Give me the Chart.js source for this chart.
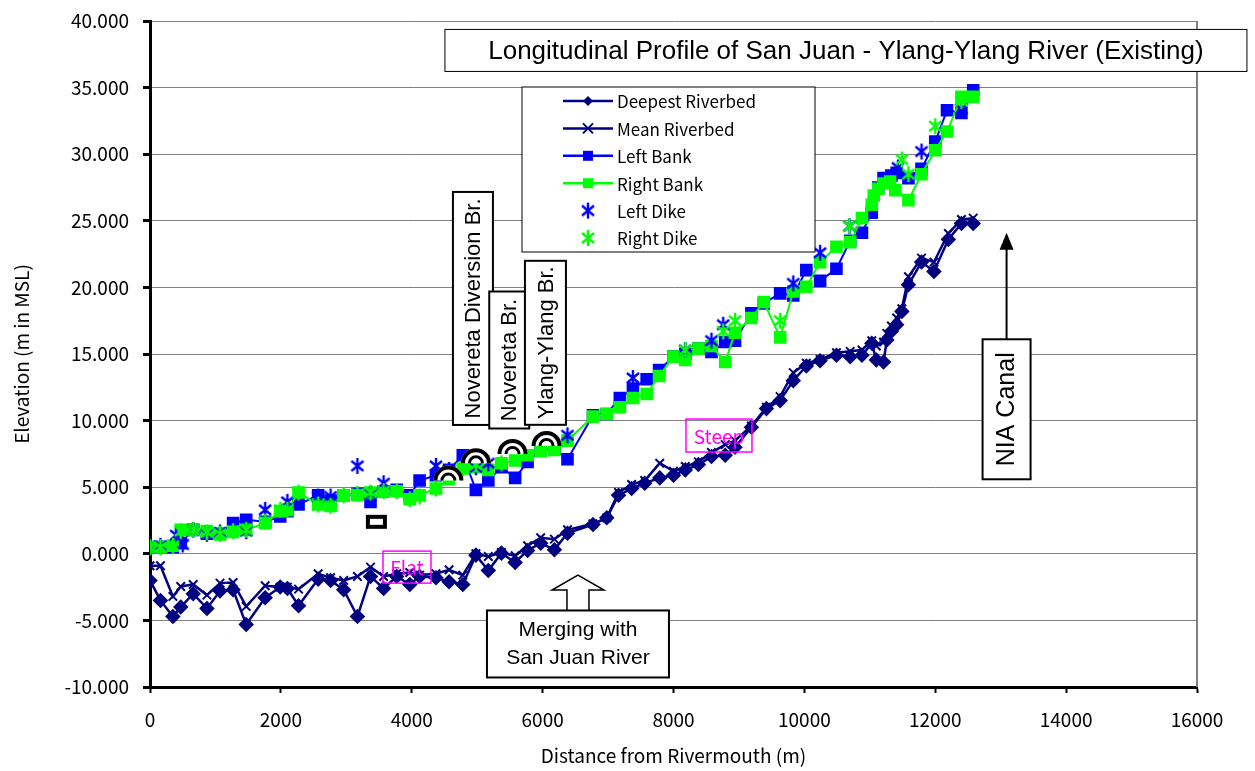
<!DOCTYPE html>
<html>
<head>
<meta charset="utf-8">
<script src="https://cdn.jsdelivr.net/npm/chart.js@4.4.0/dist/chart.umd.min.js"></script>
<style>
  html, body { margin: 0; padding: 0; background: #fff; }
</style>
</head>
<body>
<canvas id="myChart" width="1255" height="771"></canvas>
<script>
// riverbed survey sections (distance from rivermouth, m)
const bedDist = [0,160,350,470,660,870,1070,1270,1470,1760,1990,2100,2270,2570,2760,2960,3170,3370,3570,3770,3970,4120,4370,4570,4780,4980,5170,5370,5580,5770,5970,6180,6380,6770,6980,7160,7360,7560,7790,8000,8180,8380,8580,8790,8940,9190,9420,9630,9830,10030,10240,10490,10700,10880,11030,11100,11210,11260,11330,11410,11490,11590,11790,11980,12200,12400,12580]
const deepestBed = [-2.0,-3.5,-4.7,-4.0,-3.0,-4.1,-2.8,-2.7,-5.3,-3.3,-2.5,-2.6,-3.9,-1.9,-2.0,-2.7,-4.7,-1.7,-2.6,-1.7,-2.3,-1.7,-1.8,-2.1,-2.3,-0.1,-1.25,0.05,-0.65,0.25,0.8,0.3,1.55,2.2,2.7,4.4,4.9,5.3,5.7,5.9,6.3,6.7,7.3,7.4,8.0,9.5,10.9,11.5,13.0,14.1,14.5,14.9,14.8,14.9,15.8,14.55,14.4,16.05,16.7,17.2,18.2,20.2,21.9,21.2,23.6,24.8,24.8]
const meanBed = [-0.9,-0.9,-3.2,-2.45,-2.3,-3.1,-2.2,-2.15,-3.95,-2.4,-2.5,-2.5,-2.65,-1.5,-1.8,-2.0,-1.7,-1.0,-1.7,-1.5,-1.4,-1.6,-1.5,-1.2,-1.6,0.0,-0.2,0.1,-0.15,0.6,1.2,1.1,1.8,2.25,2.7,4.6,5.2,5.5,6.8,6.2,6.55,6.9,7.6,8.2,8.5,9.6,11.0,11.8,13.6,14.3,14.6,15.1,15.2,15.3,16.0,15.6,15.9,16.55,17.1,17.7,18.4,20.8,22.2,21.9,24.05,25.1,25.2]

// banks
const leftBankDist = [0,160,350,470,660,870,1070,1270,1470,1760,1990,2100,2270,2570,2760,2960,3170,3370,3570,3770,3970,4120,4370,4570,4780,4980,5170,5370,5580,5770,5970,6180,6380,6770,6980,7180,7380,7590,7780,8000,8180,8380,8580,8790,8940,9190,9380,9630,9830,10030,10240,10490,10700,10880,11030,11130,11210,11330,11410,11590,11790,12000,12180,12400,12580]
const leftBank = [0.5,0.5,0.5,0.8,1.8,1.5,1.5,2.3,2.55,2.4,2.8,3.2,3.7,4.4,4.0,4.4,4.5,3.9,4.7,4.8,4.4,5.5,5.9,6.3,7.4,4.8,5.5,6.5,5.7,6.9,7.8,7.9,7.1,10.4,10.5,11.7,12.4,13.1,13.8,14.8,15.0,15.4,15.15,15.9,16.0,18.05,18.8,19.55,19.4,21.3,20.5,21.4,23.5,24.1,25.6,27.5,28.2,28.4,28.6,28.2,28.9,30.95,33.3,33.1,34.8]
const rightBankDist = [0,160,350,470,660,870,1070,1270,1470,1760,1990,2100,2270,2570,2760,2960,3170,3370,3570,3770,3970,4120,4370,4570,4780,4980,5170,5370,5580,5770,5970,6180,6380,6770,6980,7180,7380,7590,7780,8000,8180,8380,8580,8790,8940,9190,9380,9630,9830,10030,10240,10490,10700,10880,11030,11060,11130,11210,11310,11390,11590,11790,12000,12180,12400,12580]
const rightBank = [0.5,0.5,0.6,1.8,1.8,1.7,1.45,1.65,1.8,2.3,3.2,3.3,4.6,3.7,3.6,4.4,4.4,4.6,4.7,4.7,4.1,4.4,4.9,5.6,6.4,6.5,6.3,6.8,7.0,7.4,7.7,7.8,8.5,10.3,10.5,11.0,11.7,12.0,13.35,14.8,14.55,15.4,15.6,14.4,16.6,17.7,18.9,16.25,19.7,20.05,21.9,23.05,23.4,25.2,26.2,26.9,27.4,27.8,27.95,27.3,26.55,28.5,30.3,31.7,34.3,34.3]

// dikes
const leftDikeDist = [0,160,400,500,660,870,1070,1470,1760,2100,2570,2760,3170,3370,3570,4370,4570,4980,5170,6380,7380,8180,8580,8760,9830,10240,10690,11430,11790,12400]
const leftDike = [0.5,0.6,1.4,0.7,1.8,1.5,1.6,1.7,3.3,3.9,4.3,4.3,6.6,4.5,5.3,6.6,6.3,6.5,6.8,8.9,13.2,15.3,16.0,17.2,20.3,22.6,24.6,29.0,30.2,33.4]
const rightDikeDist = [0,160,350,470,660,870,1070,1270,1470,1760,1990,2100,2270,2570,2760,2960,3170,3370,3570,3770,3970,4120,4370,4780,4980,5370,8180,8760,8940,9630,10690,11490,11590,12000,12400]
const rightDike = [0.5,0.5,0.6,1.7,1.8,1.6,1.5,1.7,1.8,2.4,3.3,3.3,4.6,3.7,3.6,4.4,4.5,4.6,4.7,4.7,4.1,4.3,4.9,6.4,6.7,6.8,15.3,16.7,17.5,17.5,24.6,29.6,28.5,32.1,34.0]

// axis ticks
const xTickValues = [0,2000,4000,6000,8000,10000,12000,14000,16000]
const yTickValues = [-10,-5,0,5,10,15,20,25,30,35,40]

const seriesNames = ['Deepest Riverbed','Mean Riverbed','Left Bank','Right Bank','Left Dike','Right Dike']
const bridgeNames = ['Novereta Diversion Br.','Novereta Br.','Ylang-Ylang Br.']
const bridgeDist = [4560,4981,5540,6060]
const bridgeElev = [5.5,6.8,7.5,8.1]

const NAVY = '#000080', BLUE = '#0000FF', GREEN = '#00FF00'
const JP = '"Noto Sans CJK JP", "Liberation Sans", sans-serif'
const SANS = '"Liberation Sans", Arial, sans-serif'

function pts(xs, ys) { return xs.map((x, i) => ({ x: x, y: ys[i] })) }

// asterisk shaped marker used for dikes
function asterisk(color) {
  const c = document.createElement('canvas')
  c.width = 18; c.height = 18
  const g = c.getContext('2d')
  g.strokeStyle = color
  g.lineWidth = 2.4
  g.beginPath()
  g.moveTo(9, 1); g.lineTo(9, 17)
  g.moveTo(3, 4); g.lineTo(15, 14)
  g.moveTo(15, 4); g.lineTo(3, 14)
  g.stroke()
  return c
}
const leftStar = asterisk(BLUE)
const rightStar = asterisk(GREEN)

function drawMarker(ctx, kind, color, x, y) {
  ctx.save()
  ctx.fillStyle = color
  ctx.strokeStyle = color
  if (kind === 'diamond') {
    ctx.beginPath()
    ctx.moveTo(x, y - 5); ctx.lineTo(x + 5, y); ctx.lineTo(x, y + 5); ctx.lineTo(x - 5, y)
    ctx.closePath(); ctx.fill()
  } else if (kind === 'x') {
    ctx.lineWidth = 2
    ctx.beginPath()
    ctx.moveTo(x - 5, y - 5); ctx.lineTo(x + 5, y + 5)
    ctx.moveTo(x + 5, y - 5); ctx.lineTo(x - 5, y + 5)
    ctx.stroke()
  } else if (kind === 'square') {
    ctx.fillRect(x - 5, y - 5, 10, 10)
  } else if (kind === 'star') {
    ctx.drawImage(color === BLUE ? leftStar : rightStar, x - 9, y - 9)
  }
  ctx.restore()
}

function vtext(ctx, text, cx, cy, font) {
  ctx.save()
  ctx.translate(cx, cy)
  ctx.rotate(-Math.PI / 2)
  ctx.font = font
  ctx.fillStyle = '#000'
  ctx.textAlign = 'center'
  ctx.textBaseline = 'middle'
  ctx.fillText(text, 0, 1)
  ctx.restore()
}

function box(ctx, cx, cy, w, h, stroke, lw, fill) {
  ctx.save()
  if (fill) { ctx.fillStyle = fill; ctx.fillRect(cx - w / 2, cy - h / 2, w, h) }
  ctx.lineWidth = lw
  ctx.strokeStyle = stroke
  ctx.strokeRect(cx - w / 2, cy - h / 2, w, h)
  ctx.restore()
}

// annotations, legend, frame
const overlay = {
  id: 'overlay',
  afterDraw(chart) {
    const ctx = chart.ctx
    const xs = chart.scales.x, ys = chart.scales.y
    const ca = chart.chartArea
    const px = v => xs.getPixelForValue(v)
    const py = v => ys.getPixelForValue(v)

    // right border
    ctx.save()
    ctx.strokeStyle = '#808080'
    ctx.lineWidth = 2
    ctx.beginPath(); ctx.moveTo(ca.right, ca.top); ctx.lineTo(ca.right, ca.bottom); ctx.stroke()
    ctx.restore()

    // title box
    const tx = px(10635), ty = py(37.79)
    box(ctx, tx, ty, 802, 42, '#000', 1, '#fff')
    ctx.save()
    const title = 'Longitudinal Profile of San Juan - Ylang-Ylang River (Existing)'
    ctx.font = '22px ' + SANS
    const tsize = Math.min(26, 22 * 786 / ctx.measureText(title).width)
    ctx.font = tsize.toFixed(1) + 'px ' + SANS
    ctx.fillStyle = '#000'
    ctx.textAlign = 'center'; ctx.textBaseline = 'middle'
    ctx.fillText(title, tx, ty + 1)
    ctx.restore()

    // legend
    const lx = ca.left + 372, ltop = ca.top + 66
    box(ctx, lx + 146.5, ltop + 82.5, 293, 165, '#000', 1, '#fff')
    const kinds = ['diamond', 'x', 'square', 'square', 'star', 'star']
    const cols = [NAVY, NAVY, BLUE, GREEN, BLUE, GREEN]
    const lines = [true, true, true, true, false, false]
    ctx.save()
    ctx.font = '17px ' + JP
    ctx.textBaseline = 'middle'
    for (let i = 0; i < seriesNames.length; i++) {
      const yy = ltop + 14 + i * 27.4
      if (lines[i]) {
        ctx.strokeStyle = cols[i]; ctx.lineWidth = 2.5
        ctx.beginPath(); ctx.moveTo(lx + 41, yy); ctx.lineTo(lx + 91, yy); ctx.stroke()
      }
      drawMarker(ctx, kinds[i], cols[i], lx + 66, yy)
      ctx.fillStyle = '#000'
      ctx.fillText(seriesNames[i], lx + 95, yy + 1)
    }
    ctx.restore()

    // bridge name boxes
    const bb = [[4935, 18.42, 40, 233], [5490, 14.55, 40, 137], [6043, 15.84, 41, 164]]
    bb.forEach((b, i) => {
      const cx = px(b[0]), cy = py(b[1])
      box(ctx, cx, cy, b[2], b[3], '#000', 2, '#fff')
      vtext(ctx, bridgeNames[i], cx, cy, '22px ' + SANS)
    })

    // bridge symbols
    ctx.save()
    bridgeDist.forEach((d, i) => {
      const cx = px(d), cy = py(bridgeElev[i])
      ctx.fillStyle = '#fff'
      ctx.beginPath(); ctx.arc(cx, cy, 15, Math.PI, 0); ctx.closePath(); ctx.fill()
      ctx.strokeStyle = '#000'
      ctx.lineWidth = 4
      ctx.beginPath(); ctx.arc(cx, cy, 13, Math.PI, 0); ctx.stroke()
      ctx.lineWidth = 3
      ctx.beginPath(); ctx.arc(cx, cy, 6.5, Math.PI, 0); ctx.stroke()
    })
    ctx.restore()

    // small structure mark
    ctx.save()
    const sx = px(3460), sy = py(2.4)
    ctx.fillStyle = '#fff'; ctx.fillRect(sx - 10, sy - 7, 20, 14)
    ctx.strokeStyle = '#000'; ctx.lineWidth = 4
    ctx.strokeRect(sx - 8.5, sy - 5, 17, 10)
    ctx.restore()

    // Flat / Steep
    const tags = [['Flat', 3927, -1.0, 48, 32], ['Steep', 8695, 8.88, 66, 33]]
    tags.forEach(t => {
      const cx = px(t[1]), cy = py(t[2])
      box(ctx, cx, cy, t[3], t[4], '#FF00FF', 1.5, null)
      ctx.save()
      ctx.font = '19px ' + JP
      ctx.fillStyle = '#FF00FF'
      ctx.textAlign = 'center'; ctx.textBaseline = 'middle'
      ctx.fillText(t[0], cx, cy + 1)
      ctx.restore()
    })

    // merging arrow + box
    const ax = px(6540), ay = py(-1.6)
    ctx.save()
    ctx.fillStyle = '#fff'; ctx.strokeStyle = '#000'; ctx.lineWidth = 1.5
    ctx.beginPath()
    ctx.moveTo(ax - 11, ay + 36); ctx.lineTo(ax - 11, ay + 15); ctx.lineTo(ax - 26, ay + 15)
    ctx.lineTo(ax, ay); ctx.lineTo(ax + 26, ay + 15); ctx.lineTo(ax + 11, ay + 15); ctx.lineTo(ax + 11, ay + 36)
    ctx.closePath(); ctx.fill(); ctx.stroke()
    ctx.restore()
    const mx = px(6540), my = py(-6.77)
    box(ctx, mx, my, 182, 67, '#000', 2, '#fff')
    ctx.save()
    ctx.font = '21px ' + SANS
    ctx.fillStyle = '#000'
    ctx.textAlign = 'center'; ctx.textBaseline = 'middle'
    ctx.fillText('Merging with', mx, my - 14)
    ctx.fillText('San Juan River', mx, my + 14)
    ctx.restore()

    // NIA canal
    const nx = px(13090), ny = py(10.85)
    const tipY = py(24.1)
    ctx.save()
    ctx.strokeStyle = '#000'; ctx.fillStyle = '#000'; ctx.lineWidth = 2
    ctx.beginPath(); ctx.moveTo(nx, ny - 70); ctx.lineTo(nx, tipY + 15); ctx.stroke()
    ctx.beginPath(); ctx.moveTo(nx, tipY); ctx.lineTo(nx - 7, tipY + 17); ctx.lineTo(nx + 7, tipY + 17); ctx.closePath(); ctx.fill()
    ctx.restore()
    box(ctx, nx, ny, 48, 140, '#000', 2, '#fff')
    vtext(ctx, 'NIA Canal', nx, ny, '25px ' + SANS)
  }
}

const chartArea = document.getElementById('myChart').getContext('2d')
const myChart = new Chart(chartArea, {
  type: 'line',
  data: {
    datasets: [
      {
        label: seriesNames[4], data: pts(leftDikeDist, leftDike), showLine: false,
        pointStyle: leftStar, pointRadius: 9, order: 1
      }, {
        label: seriesNames[5], data: pts(rightDikeDist, rightDike), showLine: false,
        pointStyle: rightStar, pointRadius: 9, order: 0
      }, {
        label: seriesNames[3], data: pts(rightBankDist, rightBank),
        borderColor: GREEN, backgroundColor: GREEN, borderWidth: 2,
        pointStyle: 'rect', pointRadius: 7.5, order: 2
      }, {
        label: seriesNames[2], data: pts(leftBankDist, leftBank),
        borderColor: BLUE, backgroundColor: BLUE, borderWidth: 2,
        pointStyle: 'rect', pointRadius: 7.5, order: 3
      }, {
        label: seriesNames[1], data: pts(bedDist, meanBed),
        borderColor: NAVY, backgroundColor: NAVY, borderWidth: 2.5,
        pointStyle: 'crossRot', pointRadius: 6, pointBorderWidth: 2, order: 4
      }, {
        label: seriesNames[0], data: pts(bedDist, deepestBed),
        borderColor: NAVY, backgroundColor: NAVY, borderWidth: 2.5,
        pointStyle: 'rectRot', pointRadius: 6, order: 5
      }
    ]
  },
  options: {
    responsive: false,
    animation: false,
    devicePixelRatio: 1,
    layout: { padding: { left: 0, right: 58, top: 21, bottom: 0 } },
    elements: { line: { tension: 0 } },
    plugins: { legend: { display: false }, tooltip: { enabled: false } },
    scales: {
      x: {
        type: 'linear', min: 0, max: 16000,
        afterBuildTicks: s => { s.ticks = xTickValues.map(v => ({ value: v })) },
        afterFit: s => { s.height = 84 },
        ticks: { color: '#000', font: { size: 19, family: JP }, padding: 15, maxRotation: 0, callback: v => String(v) },
        grid: { drawOnChartArea: false, tickColor: '#000', tickLength: 6, tickWidth: 2 },
        border: { color: '#000', width: 3 },
        title: { display: true, text: 'Distance from Rivermouth (m)', color: '#000', font: { size: 19, family: JP }, padding: { top: 0, bottom: 4 } }
      },
      y: {
        type: 'linear', min: -10, max: 40,
        afterBuildTicks: s => { s.ticks = yTickValues.map(v => ({ value: v })) },
        afterFit: s => { s.width = 150; s.paddingTop = 0; s.paddingBottom = 0 },
        ticks: { color: '#000', font: { size: 19, family: JP }, padding: 14, callback: v => v.toFixed(3) },
        grid: { color: '#808080', lineWidth: 1, tickColor: '#000', tickLength: 7, tickWidth: 3 },
        border: { color: '#000', width: 3 },
        title: { display: true, text: 'Elevation (m in MSL)', color: '#000', font: { size: 19, family: JP }, padding: { top: 10, bottom: 0 } }
      }
    }
  },
  plugins: [overlay]
})
</script>
</body>
</html>
